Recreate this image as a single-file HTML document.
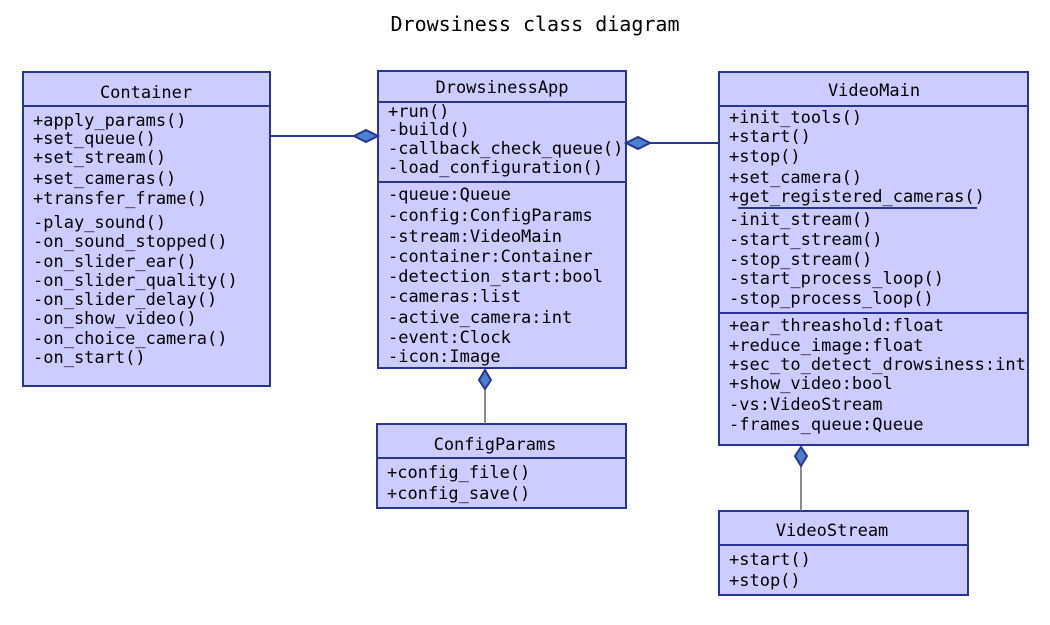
<!DOCTYPE html>
<html><head><meta charset="utf-8"><style>
body{margin:0;background:#fff}
svg text{font-family:"DejaVu Sans Mono","Liberation Mono",monospace;font-size:17px;fill:#000;dominant-baseline:central}
.b{fill:#ccccff;stroke:#283593;stroke-width:2}
.l{stroke:#283593;stroke-width:2}
.d{fill:#4a7fd0;stroke:#283593;stroke-width:2}
</style></head><body>
<svg width="1050" height="620" xmlns="http://www.w3.org/2000/svg">
<text x="535" y="24" text-anchor="middle" style="font-size:20px">Drowsiness class diagram</text>

<!-- Container -->
<rect class="b" x="23" y="72" width="247" height="314"/>
<line class="l" x1="23" y1="106" x2="270" y2="106"/>
<text x="146" y="93" text-anchor="middle">Container</text>
<text x="33" y="121">+apply_params()</text>
<text x="33" y="139">+set_queue()</text>
<text x="33" y="158">+set_stream()</text>
<text x="33" y="179">+set_cameras()</text>
<text x="33" y="199">+transfer_frame()</text>
<text x="33" y="223">-play_sound()</text>
<text x="33" y="242">-on_sound_stopped()</text>
<text x="33" y="262">-on_slider_ear()</text>
<text x="33" y="281">-on_slider_quality()</text>
<text x="33" y="300">-on_slider_delay()</text>
<text x="33" y="319">-on_show_video()</text>
<text x="33" y="339">-on_choice_camera()</text>
<text x="33" y="358">-on_start()</text>

<!-- DrowsinessApp -->
<rect class="b" x="378" y="71" width="248" height="297"/>
<line class="l" x1="378" y1="102" x2="626" y2="102"/>
<line class="l" x1="378" y1="182" x2="626" y2="182"/>
<text x="502" y="88" text-anchor="middle">DrowsinessApp</text>
<text x="388" y="112">+run()</text>
<text x="388" y="130">-build()</text>
<text x="388" y="149">-callback_check_queue()</text>
<text x="388" y="168">-load_configuration()</text>
<text x="388" y="195">-queue:Queue</text>
<text x="388" y="216">-config:ConfigParams</text>
<text x="388" y="237">-stream:VideoMain</text>
<text x="388" y="257">-container:Container</text>
<text x="388" y="277">-detection_start:bool</text>
<text x="388" y="297">-cameras:list</text>
<text x="388" y="318">-active_camera:int</text>
<text x="388" y="338">-event:Clock</text>
<text x="388" y="357">-icon:Image</text>

<!-- VideoMain -->
<rect class="b" x="719" y="72" width="309" height="373"/>
<line class="l" x1="719" y1="106" x2="1028" y2="106"/>
<line class="l" x1="719" y1="313" x2="1028" y2="313"/>
<text x="874" y="91" text-anchor="middle">VideoMain</text>
<text x="729" y="118">+init_tools()</text>
<text x="729" y="137">+start()</text>
<text x="729" y="157">+stop()</text>
<text x="729" y="178">+set_camera()</text>
<text x="729" y="197">+get_registered_cameras()</text>
<line class="l" x1="738" y1="208" x2="977" y2="208"/>
<text x="729" y="220">-init_stream()</text>
<text x="729" y="240">-start_stream()</text>
<text x="729" y="260">-stop_stream()</text>
<text x="729" y="279">-start_process_loop()</text>
<text x="729" y="299">-stop_process_loop()</text>
<text x="729" y="326">+ear_threashold:float</text>
<text x="729" y="346">+reduce_image:float</text>
<text x="729" y="365">+sec_to_detect_drowsiness:int</text>
<text x="729" y="384">+show_video:bool</text>
<text x="729" y="405">-vs:VideoStream</text>
<text x="729" y="425">-frames_queue:Queue</text>

<!-- ConfigParams -->
<rect class="b" x="377" y="424" width="249" height="84"/>
<line class="l" x1="377" y1="458" x2="626" y2="458"/>
<text x="495" y="445" text-anchor="middle">ConfigParams</text>
<text x="387" y="473">+config_file()</text>
<text x="387" y="494">+config_save()</text>

<!-- VideoStream -->
<rect class="b" x="719" y="511" width="249" height="84"/>
<line class="l" x1="719" y1="545" x2="968" y2="545"/>
<text x="832" y="531" text-anchor="middle">VideoStream</text>
<text x="729" y="560">+start()</text>
<text x="729" y="581">+stop()</text>

<!-- connectors -->
<line class="l" x1="271" y1="136" x2="354" y2="136"/>
<polygon class="d" points="354,136 366,130 378,136 366,142"/>
<line class="l" x1="650" y1="143" x2="719" y2="143"/>
<polygon class="d" points="626,143 638,137 650,143 638,149"/>
<line x1="485" y1="389" x2="485" y2="424" stroke="#666" stroke-width="1.5"/>
<polygon class="d" points="485,370 491,380 485,389 479,380"/>
<line x1="801" y1="466" x2="801" y2="511" stroke="#666" stroke-width="1.5"/>
<polygon class="d" points="801,447 807,456 801,466 795,456"/>
</svg>
</body></html>
